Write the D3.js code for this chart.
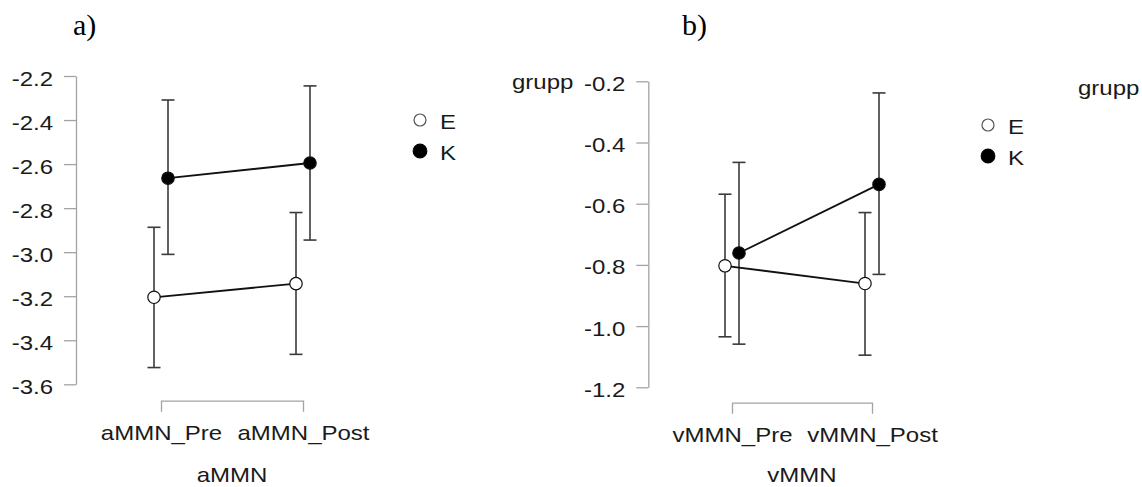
<!DOCTYPE html>
<html>
<head>
<meta charset="utf-8">
<script src="https://cdn.jsdelivr.net/npm/d3@7.9.0/dist/d3.min.js"></script>
<style>
  body { margin: 0; background: #fff; }
  svg { display: block; }
</style>
</head>
<body>
<svg id="chart" width="1142" height="487"></svg>
<script>
// groups and categories
const groups = ["E", "K"];
const catsA  = ["aMMN_Pre", "aMMN_Post"];
const catsB  = ["vMMN_Pre", "vMMN_Post"];

// panel a) means and error bar ends
const meanA_E = [-3.205, -3.143];
const loA_E   = [-3.524, -3.464];
const hiA_E   = [-2.887, -2.820];
const meanA_K = [-2.664, -2.595];
const loA_K   = [-3.010, -2.945];
const hiA_K   = [-2.309, -2.245];

// panel b)
const meanB_E = [-0.803, -0.861];
const loB_E   = [-1.035, -1.095];
const hiB_E   = [-0.569, -0.629];
const meanB_K = [-0.761, -0.537];
const loB_K   = [-1.059, -0.831];
const hiB_K   = [-0.465, -0.238];

const ticksA = [-3.6, -3.4, -3.2, -3.0, -2.8, -2.6, -2.4, -2.2];
const ticksB = [-1.2, -1.0, -0.8, -0.6, -0.4, -0.2];

const svg = d3.select('#chart');
const FONT = "'Liberation Sans', Arial, sans-serif";
const ink = '#1a1a1a';
const axisGray = '#a3a3a3';

// text is a bit wide in the original, so stretch it horizontally
function stext(parent, x, y, str, anchor = 'start') {
  return parent.append('text')
    .attr('transform', `translate(${x},${y}) scale(1.2,1)`)
    .attr('text-anchor', anchor)
    .attr('font-family', FONT)
    .attr('font-size', 20)
    .attr('fill', ink)
    .text(str);
}

function panel(cfg) {
  const g = svg.append('g');
  const y = d3.scaleLinear().domain(cfg.domain).range(cfg.yRange);
  const x = d3.scalePoint().domain(cfg.cats).range(cfg.xRange);

  // y axis
  const ya = g.append('g')
    .attr('transform', `translate(${cfg.axisX},0)`)
    .call(d3.axisLeft(y).tickValues(cfg.ticks).tickSize(12).tickSizeOuter(0)
      .tickFormat(d => d.toFixed(1)));
  ya.selectAll('path, line').attr('stroke', axisGray).attr('stroke-width', 1.3);
  ya.selectAll('text')
    .attr('x', null).attr('dy', null)
    .attr('transform', 'translate(-23,9) scale(1.2,1)')
    .attr('font-family', FONT).attr('font-size', 20).attr('fill', ink);

  // x axis bracket
  const xa = g.append('g')
    .attr('transform', `translate(0,${cfg.bracketY})`)
    .call(d3.axisBottom(x).tickSize(0).tickSizeOuter(11));
  xa.selectAll('path').attr('stroke', axisGray).attr('stroke-width', 1.3);
  xa.selectAll('text')
    .attr('y', null).attr('dy', null)
    .attr('transform', `translate(0,${cfg.labelY - cfg.bracketY}) scale(1.2,1)`)
    .attr('font-family', FONT).attr('font-size', 20).attr('fill', ink);

  stext(g, (cfg.xRange[0] + cfg.xRange[1]) / 2, cfg.titleY, cfg.title, 'middle');

  // panel letter
  g.append('text')
    .attr('x', cfg.letterX).attr('y', 35)
    .attr('font-family', "'Liberation Serif', 'Times New Roman', serif")
    .attr('font-size', 30).attr('fill', '#000')
    .text(cfg.letter);

  const series = groups.map((grp, gi) => ({
    grp,
    dx: gi === 0 ? -7 : 7,
    fill: gi === 0 ? '#fff' : '#000',
    pts: cfg.cats.map((c, i) => ({
      c, m: cfg.mean[gi][i], lo: cfg.lo[gi][i], hi: cfg.hi[gi][i]
    }))
  }));

  // error bars
  series.forEach(s => {
    s.pts.forEach(p => {
      const px = x(p.c) + s.dx;
      g.append('line').attr('x1', px).attr('x2', px)
        .attr('y1', y(p.lo)).attr('y2', y(p.hi))
        .attr('stroke', '#3a3a3a').attr('stroke-width', 1.6);
      [p.lo, p.hi].forEach(v => {
        g.append('line').attr('x1', px - 6.5).attr('x2', px + 6.5)
          .attr('y1', y(v)).attr('y2', y(v))
          .attr('stroke', '#3a3a3a').attr('stroke-width', 1.6);
      });
    });
  });

  // lines
  const line = d3.line().x(d => d[0]).y(d => d[1]);
  series.forEach(s => {
    g.append('path')
      .attr('d', line(s.pts.map(p => [x(p.c) + s.dx, y(p.m)])))
      .attr('fill', 'none').attr('stroke', '#111').attr('stroke-width', 1.8);
  });

  // points
  series.forEach(s => {
    s.pts.forEach(p => {
      g.append('circle')
        .attr('cx', x(p.c) + s.dx).attr('cy', y(p.m)).attr('r', 6.2)
        .attr('fill', s.fill).attr('stroke', '#111').attr('stroke-width', 1.2);
    });
  });

  // legend
  stext(g, cfg.legTitle[0], cfg.legTitle[1], 'grupp');
  groups.forEach((grp, gi) => {
    const cy = cfg.leg[1] + gi * cfg.legStep;
    g.append('circle')
      .attr('cx', cfg.leg[0]).attr('cy', cy).attr('r', gi === 0 ? 6 : 6.8)
      .attr('fill', gi === 0 ? '#fff' : '#000')
      .attr('stroke', gi === 0 ? '#555' : '#000').attr('stroke-width', 1.2);
    stext(g, cfg.leg[0] + 20, cy + 8.5, grp);
  });
}

panel({
  cats: catsA, ticks: ticksA, domain: [-3.6, -2.2], yRange: [384.3, 76],
  xRange: [161, 303], axisX: 76, bracketY: 400.7, labelY: 440,
  title: 'aMMN', titleY: 482, letter: 'a)', letterX: 73,
  mean: [meanA_E, meanA_K], lo: [loA_E, loA_K], hi: [hiA_E, hiA_K],
  leg: [420, 120], legStep: 31, legTitle: [512, 89]
});

panel({
  cats: catsB, ticks: ticksB, domain: [-1.2, -0.2], yRange: [387.3, 81.3],
  xRange: [732, 872], axisX: 648.3, bracketY: 402.7, labelY: 442,
  title: 'vMMN', titleY: 482, letter: 'b)', letterX: 682,
  mean: [meanB_E, meanB_K], lo: [loB_E, loB_K], hi: [hiB_E, hiB_K],
  leg: [988, 125], legStep: 31, legTitle: [1078, 95]
});
</script>
</body>
</html>
